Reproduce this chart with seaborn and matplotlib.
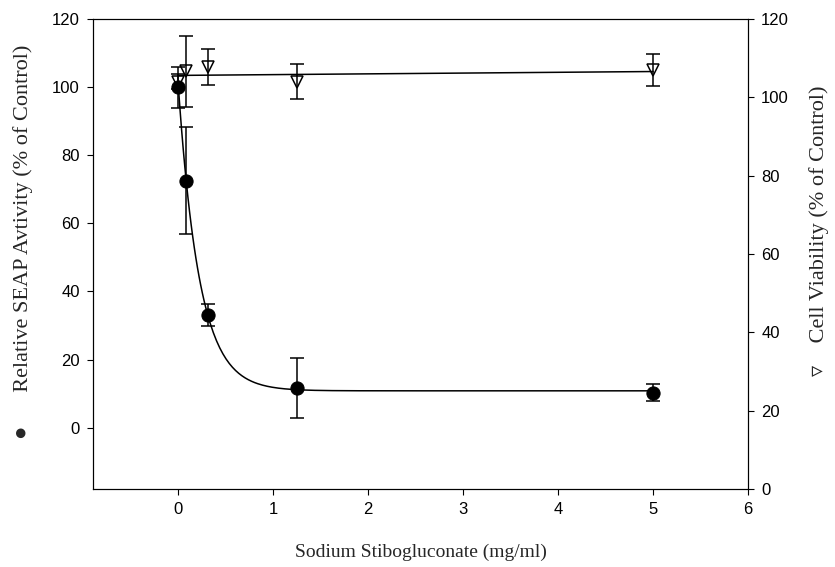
import numpy as np
import pandas as pd
import matplotlib
matplotlib.use('Agg')
import matplotlib.pyplot as plt
import seaborn as sns

# Data
dose = [0, 0.08, 0.31, 1.25, 5]                 # mg/ml
seap = [100, 72.5, 33.2, 11.7, 10.2]            # % of control (left axis)
seap_err = [6, 15.7, 3.2, 8.8, 2.5]
viab = [104, 106.6, 107.8, 104.0, 106.9]        # % of control (right axis)
viab_err = [2, 9, 4.6, 4.5, 4.1]

sns.set_theme(style='ticks')
plt.rcParams['font.family'] = ['Liberation Sans', 'DejaVu Sans']
plt.rcParams['axes.linewidth'] = 0.8
plt.rcParams['xtick.major.width'] = 0.8
plt.rcParams['ytick.major.width'] = 0.8
plt.rcParams['xtick.major.size'] = 4.5
plt.rcParams['ytick.major.size'] = 4.5
plt.rcParams['xtick.color'] = 'black'
plt.rcParams['ytick.color'] = 'black'
plt.rcParams['axes.edgecolor'] = 'black'

df = pd.DataFrame({'dose': dose, 'seap': seap, 'seap_err': seap_err,
                   'viab': viab, 'viab_err': viab_err})

# exponential decay fit for SEAP: y = c + a*exp(-b x)
best = None
for b in np.linspace(0.5, 15, 2000):
    A = np.column_stack([np.ones(len(dose)), np.exp(-b * np.array(dose))])
    coef = np.linalg.lstsq(A, np.array(seap), rcond=None)[0]
    sse = np.sum((A @ coef - np.array(seap)) ** 2)
    if best is None or sse < best[0]:
        best = (sse, b, coef)
_, b_fit, (c_fit, a_fit) = best
xs = np.linspace(0, 5, 300)
fit_seap = pd.DataFrame({'x': xs, 'y': c_fit + a_fit * np.exp(-b_fit * xs)})

# linear fit for viability
slope, icpt = np.polyfit(dose, viab, 1)
xl = np.linspace(0, 5, 50)
fit_viab = pd.DataFrame({'x': xl, 'y': icpt + slope * xl})

fig = plt.figure(figsize=(8.35, 5.67), dpi=100)
ax = fig.add_axes([0.1114, 0.1376, 0.7844, 0.8289])
ax2 = ax.twinx()

sns.lineplot(data=fit_seap, x='x', y='y', ax=ax, color='black', lw=1.1)
ax.errorbar(df['dose'], df['seap'], yerr=df['seap_err'], fmt='none',
            ecolor='black', elinewidth=1.1, capsize=5, capthick=1.1)
sns.scatterplot(data=df, x='dose', y='seap', ax=ax, marker='o', s=90,
                color='black', edgecolor='black', zorder=5)

sns.lineplot(data=fit_viab, x='x', y='y', ax=ax2, color='black', lw=1.1)
ax2.errorbar(df['dose'], df['viab'], yerr=df['viab_err'], fmt='none',
             ecolor='black', elinewidth=1.1, capsize=5, capthick=1.1)
ax2.plot(df['dose'], df['viab'], linestyle='none', marker='v', ms=9,
         mfc='none', mec='black', mew=1.1, zorder=5)

ax.set_xlim(-0.9, 6)
ax.set_ylim(-18, 120)
ax2.set_ylim(0, 120)
ax.set_xticks(range(0, 7))
ax.set_yticks(range(0, 121, 20))
ax2.set_yticks(range(0, 121, 20))
for a in (ax, ax2):
    a.tick_params(labelsize=12, direction='out', pad=5)
    for s in a.spines.values():
        s.set_visible(True)
        s.set_linewidth(0.8)

serif = ['Liberation Serif', 'DejaVu Sans']
ax.set_xlabel('Sodium Stibogluconate (mg/ml)', fontsize=14, family=serif)
ax.set_ylabel('\u25cf      Relative SEAP Avtivity (% of Control)', fontsize=16,
              family=serif)
ax2.set_ylabel('\u25bf    Cell Viability (% of Control)', fontsize=16,
               family=serif, rotation=90)
ax.xaxis.set_label_coords(0.5, -0.135)
ax.xaxis.label.set_verticalalignment('center')
ax.yaxis.set_label_coords(-0.107, 0.525)
ax.yaxis.label.set_verticalalignment('center')
ax2.yaxis.set_label_coords(1.108, 0.55)
ax2.yaxis.label.set_verticalalignment('center')

fig.savefig('out.png', dpi=100)
